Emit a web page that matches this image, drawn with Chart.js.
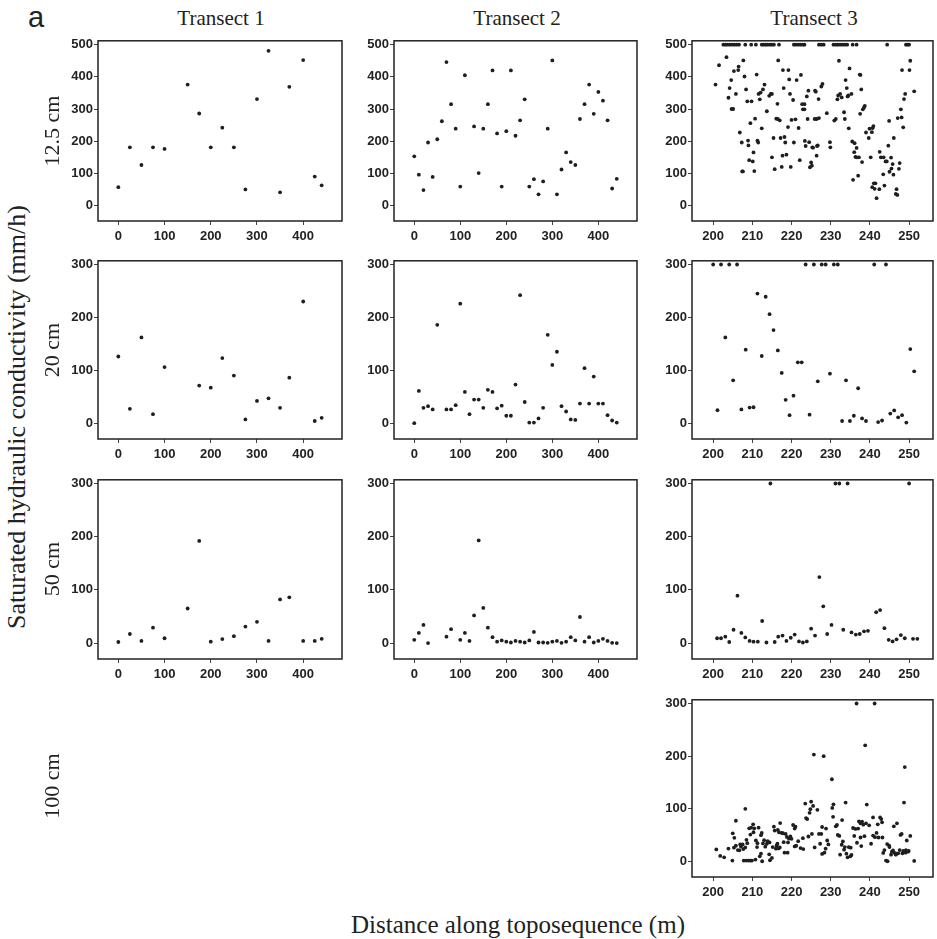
<!DOCTYPE html>
<html lang="en">
<head>
<meta charset="UTF-8">
<title>Saturated hydraulic conductivity along three transects</title>
<script src="https://cdn.jsdelivr.net/npm/chart.js"></script>
<style>
  body { margin: 0; width: 937px; height: 939px; position: relative; overflow: hidden; background: #fff; }
  canvas { position: absolute; }
  .txt { position: absolute; color: #222; white-space: nowrap; font-family: 'Liberation Serif', 'Times New Roman', serif; line-height: 1; }
</style>
</head>
<body>
<script>
// ---- data (distance in m, Ksat in mm/h) ----
// Transect 1
const t1X125 = [0, 25, 50, 75, 100, 150, 175, 200, 225, 250, 275, 300, 325, 350, 370, 400, 425, 440];
const t1Y125 = [57, 181, 126, 181, 176, 376, 286, 181, 242, 181, 50, 331, 481, 41, 369, 452, 90, 63];
const t1X20 = [0, 25, 50, 75, 100, 175, 200, 225, 250, 275, 300, 325, 350, 370, 400, 425, 440];
const t1Y20 = [126, 27, 162, 17, 106, 71, 67, 123, 90, 7, 42, 47, 29, 86, 230, 4, 10];
const t1X50 = [0, 25, 50, 75, 100, 150, 175, 200, 225, 250, 275, 300, 325, 350, 370, 400, 425, 440];
const t1Y50 = [2, 17, 4, 29, 9, 65, 192, 2.5, 7.5, 13, 31, 40, 4, 82, 86, 4, 4, 8];

// Transect 2
const t2X125 = [0, 10, 20, 30, 40, 50, 60, 70, 80, 90, 100, 110, 130, 140, 150, 160, 170, 180, 190, 200, 210, 220,
  230, 240, 250, 260, 270, 280, 290, 300, 310, 320, 330, 340, 350, 360, 370, 380, 390, 400, 410, 420, 430, 440];
const t2Y125 = [153, 96, 48, 196, 89, 206, 262, 446, 315, 239, 59, 405, 246, 101, 239, 315, 420, 224, 59, 231, 420, 217,
  265, 330, 59, 82, 35, 75, 239, 451, 35, 112, 165, 135, 126, 269, 315, 376, 285, 353, 326, 265, 53, 83];
const t2X20 = [0, 10, 20, 30, 40, 50, 70, 80, 90, 100, 110, 120, 130, 140, 150, 160, 170, 180, 190, 200, 210, 220,
  230, 240, 250, 260, 270, 280, 290, 300, 310, 320, 330, 340, 350, 360, 370, 380, 390, 400, 410, 420, 430, 440];
const t2Y20 = [0, 61, 29, 32, 26, 186, 26, 26, 34, 226, 59, 17, 44.5, 44.5, 29, 63, 59, 28, 33, 14, 14, 73,
  242, 40, 1, 1, 9, 29, 167, 110, 135, 32, 22, 7, 6, 37, 104, 37, 88, 37, 37, 15, 5, 1];
const t2X50 = [0, 10, 20, 30, 70, 80, 100, 110, 120, 130, 140, 150, 160, 170, 180, 190, 200, 210, 220, 230, 240,
  250, 260, 270, 280, 290, 300, 310, 320, 330, 340, 350, 360, 370, 380, 390, 400, 410, 420, 430, 440];
const t2Y50 = [6, 19, 34, 0, 12, 26, 6, 19, 4, 52, 193, 66, 29, 11, 2.5, 5, 2.5, 1, 4, 2.5, 1,
  5, 21, 1, 1, 0.5, 2.5, 4, 0.5, 2.5, 11, 5, 49, 2.5, 11, 1, 4, 8, 4, 0.5, 0];

// Transect 3
const t3X125 = [
  202.6, 203.1, 203.6, 204.2, 204.8, 205.4, 206.0, 206.6, 208.2, 209.7, 210.9, 212.4, 212.9, 213.4, 213.9, 214.5, 215.0, 215.5,
  216.8, 220.6, 221.1, 221.7, 222.3, 222.9, 223.3, 227.0, 227.6, 228.2, 230.7, 231.3, 231.8, 232.4, 233.0, 233.6, 234.2,
  235.6, 236.6, 244.4, 249.2, 249.6, 250.0,
  200.6, 201.5, 203.4, 203.9, 204.2, 204.6, 204.7, 205.1, 205.3, 205.8, 206.4, 206.5, 206.8, 207.3, 207.4, 207.6, 207.7,
  208.0, 208.4, 208.7, 208.9, 209.0, 209.2, 209.5, 209.8, 210.1, 210.3, 210.5, 210.7, 211.1, 211.3, 211.5, 211.6, 211.9,
  212.1, 212.4, 212.7, 213.1, 213.7, 214.3, 214.7, 215.0, 215.0, 215.4, 215.7, 216.1, 216.4, 216.5, 216.6, 217.0, 217.2,
  217.5, 217.7, 217.8, 218.0, 218.2, 218.4, 218.7, 219.1, 219.2, 219.4, 219.6, 219.8, 220.0, 220.4, 220.6, 221.0, 221.3,
  221.8, 222.1, 222.4, 222.7, 222.9, 223.3, 223.3, 223.4, 223.6, 223.9, 224.1, 224.3, 224.5, 224.7, 225.0, 225.2, 225.3,
  225.5, 225.9, 226.4, 226.0, 226.2, 226.4, 226.5, 226.7, 226.9, 227.0,
  227.6, 227.9, 229.0, 229.8, 229.9, 230.9, 231.3, 231.7, 231.9, 232.1, 232.4, 232.8, 233.4, 233.6, 233.8, 234.1, 234.3,
  234.5, 234.6, 234.8, 235.3, 235.5, 235.7, 236.0, 236.1, 236.3, 236.6, 236.6, 237.0, 237.2, 237.4, 237.6, 237.5, 237.8,
  238.0, 238.2, 238.5, 238.7, 239.0, 239.7, 239.9, 240.2, 240.5, 240.7, 240.9, 240.6, 241.0, 241.2, 241.4, 241.7, 242.4,
  242.5, 242.8, 243.4, 243.5, 243.7, 244.0, 244.3, 244.7, 244.9, 245.0, 245.4, 245.5, 245.8, 246.0, 246.1, 246.6, 246.8,
  247.0, 247.1, 247.4, 247.6, 247.9, 248.1, 248.2, 248.5, 248.7, 249.0, 250.1, 250.3, 251.3];
const t3Y125 = [
  500, 500, 500, 500, 500, 500, 500, 500, 500, 500, 500, 500, 500, 500, 500, 500, 500, 500,
  500, 500, 500, 500, 500, 500, 500, 500, 500, 500, 500, 500, 500, 500, 500, 500, 500,
  500, 500, 500, 500, 500, 500,
  376, 436, 461, 335, 365, 390, 300, 300, 418, 347, 421, 432, 227, 196, 106, 106, 451,
  401, 361, 324, 202, 187, 141, 256, 324, 137, 165, 107, 270, 407, 202, 196, 347, 330,
  351, 240, 361, 376, 293, 341, 347, 347, 150, 210, 113, 270, 316, 269, 451, 265, 210,
  120, 155, 421, 365, 213, 196, 158, 244, 421, 392, 347, 120, 266, 328, 196, 268, 390,
  241, 141, 406, 315, 299, 315, 299, 201, 185, 339, 269, 357, 197, 119, 134, 124, 181,
  180, 269, 269, 357, 354, 155, 185, 187, 331, 272,
  370, 378, 287, 197, 181, 264, 269, 330, 342, 450, 347, 336, 290, 269, 390, 365, 339,
  342, 240, 426, 347, 199, 80, 166, 194, 151, 150, 179, 93, 150, 407, 406, 285, 361,
  135, 299, 305, 310, 227, 210, 239, 150, 228, 241, 247, 57, 69, 52, 69, 23, 51,
  167, 150, 97, 150, 62, 137, 137, 186, 263, 105, 149, 115, 129, 96, 210, 36, 51,
  33, 272, 114, 132, 299, 274, 421, 243, 331, 347, 421, 450, 355];
const t3X20 = [200.0, 201.1, 202.0, 203.1, 204.1, 205.1, 206.1, 207.2, 208.3, 209.3, 210.3, 211.3, 212.4, 213.4, 214.4,
  215.4, 216.5, 217.5, 218.5, 219.5, 220.5, 221.6, 222.6, 223.6, 224.6, 225.7, 226.7, 227.7, 228.7, 229.8, 230.8, 231.8,
  232.9, 233.9, 234.9, 235.9, 237.0, 238.0, 239.0, 241.1, 242.1, 243.1, 244.1, 245.2, 246.2, 247.2, 248.2, 249.3, 250.3, 251.3];
const t3Y20 = [300, 24.5, 300, 162, 300, 81, 300, 26, 139, 29.5, 30, 245, 127, 239, 206,
  176, 137.5, 95, 44, 15, 52, 115, 115, 300, 16, 300, 79, 300, 300, 93.5, 300, 300,
  4, 81, 4, 14, 66, 9, 4, 300, 2, 5, 300, 18, 24, 11, 15, 1, 140, 98];
const t3X50 = [201.0, 202.0, 203.1, 204.1, 205.2, 206.2, 207.2, 208.2, 209.3, 210.3, 211.4, 212.5, 213.6, 214.6, 215.7,
  216.6, 217.7, 218.7, 219.8, 220.8, 221.9, 222.9, 223.9, 225.0, 226.0, 227.1, 228.1, 229.1, 230.2, 231.2, 232.2, 233.2,
  234.3, 235.3, 236.4, 237.4, 238.5, 239.5, 241.6, 242.6, 243.7, 244.8, 245.8, 246.8, 247.9, 248.9, 250.0, 251.0, 252.1];
const t3Y50 = [9, 9, 12, 2, 25, 89, 19, 10.5, 4, 2.5, 2.5, 41.5, 1, 300, 2,
  12, 14, 4, 10, 16, 3, 1, 3, 27, 14, 124, 69, 17, 34, 300, 300, 25,
  300, 20, 16, 17, 22, 23, 58, 62, 28, 6, 3, 7, 15, 9, 300, 8, 8];
const t3X100 = [
  200.8, 201.8, 202.8, 203.9, 204.9, 205.0, 205.4, 205.8, 205.3, 205.8, 206.3, 206.7, 206.9, 207.1, 207.5, 207.7, 207.8,
  208.4, 209.0, 209.5, 208.2, 208.5, 208.2, 208.7, 209.2, 209.5, 209.7, 210.2, 210.5, 210.3, 209.9, 210.8, 210.9, 211.3,
  211.2, 211.6, 211.9, 212.2, 212.4, 212.2, 212.5, 212.7, 213.0, 213.3, 213.7, 213.9, 214.3, 214.4, 214.5, 215.0, 215.2,
  215.5, 215.7, 216.0, 216.2, 216.5, 216.8, 217.1, 217.5, 217.8, 216.4, 216.7, 217.0, 218.0, 218.2, 218.5, 218.8, 219.0,
  219.1, 219.3, 219.7, 220.0, 220.4, 220.8, 221.0, 220.8, 221.2, 221.7, 222.3, 222.9, 223.0, 223.5, 223.7, 224.0, 224.3,
  224.6, 224.8, 225.0, 225.2, 225.5, 225.7, 225.9, 226.6, 227.0, 227.3, 227.6, 227.8, 227.8, 228.2, 228.4, 228.7, 228.8,
  229.1, 229.4, 230.3, 230.4, 230.7, 230.6, 231.3, 231.6, 231.8, 232.2, 232.4, 232.8, 232.9, 233.1, 233.4, 233.6, 233.8,
  234.0, 234.3, 234.6, 235.0, 235.1, 235.3, 235.7, 236.0, 236.3, 236.6, 236.7, 237.0, 237.2, 237.6, 237.6, 238.0, 238.3,
  237.8, 238.6, 238.8, 239.0, 239.2, 239.8, 240.3, 240.8, 241.2, 240.8, 241.3, 241.7, 242.0, 242.2, 242.6, 242.9, 243.1,
  243.2, 243.4, 243.7, 244.1, 244.4, 244.5, 244.9, 245.0, 245.4, 245.6, 245.9, 246.1, 246.3, 246.6, 246.8, 246.9, 247.2,
  247.6, 247.8, 248.1, 248.3, 248.5, 248.7, 248.9, 249.1, 249.2, 249.4, 249.7, 249.9, 250.3, 251.3];
const t3Y100 = [
  22.5, 10, 7.5, 24, 1.3, 53, 44.5, 77, 25.7, 29.4, 21.3, 20.7, 31.9, 27.6, 31.9, 23.2, 1.3,
  1.3, 1.3, 1.3, 99.6, 40.7, 26.3, 34.4, 62.6, 50.7, 63.9, 70.1, 62.6, 55.1, 1.3, 3.1, 39.4, 34.4,
  26.9, 63.9, 9.4, 49.5, 53.9, 14.4, 0, 33.8, 40.1, 27.6, 33.2, 38.2, 13.1, 35.7, 1.9, 6.3, 26.9,
  65.7, 58.2, 23.8, 30.1, 59.5, 55.1, 72.6, 53.9, 53.2, 33.2, 24.4, 26.3, 36.3, 16.3, 52, 46.3, 16.3,
  35.7, 43.2, 47, 42.6, 68.9, 62, 65.7, 28.2, 29.4, 38.2, 25, 43.8, 23.2, 109.6, 82, 80.1, 47,
  92, 98.9, 113.3, 52, 105.2, 202.9, 26.3, 97.7, 52, 33.2, 52, 13.8, 65.1, 199.7, 16.3, 23.8, 62,
  39.4, 31.9, 155.9, 101.4, 108.3, 84.5, 66.4, 68.9, 50.1, 48.2, 12.5, 31.3, 78.3, 37.6, 21.9, 26.9, 111.5,
  14.4, 7.5, 26.9, 9.4, 25.7, 11.9, 63.2, 48.2, 61.4, 300, 35.1, 62, 75.8, 45.1, 72, 75.1, 69.5,
  28.8, 47.6, 220.4, 72, 107.7, 68.3, 33.2, 83.3, 300, 48.8, 45.7, 53.9, 70.1, 45.1, 83.3, 80.1, 73.9,
  45.1, 15.7, 21.3, 1.3, 32.6, 0, 29.4, 26.9, 12.5, 18.2, 20.7, 66.4, 15.7, 12.5, 14.4, 72, 15,
  21.3, 50.1, 52, 15, 19.4, 111.5, 179.1, 16.3, 21.3, 39.4, 18.2, 19.4, 48.2, 0.6];

// axis ticks
const yTicks125 = [0, 100, 200, 300, 400, 500];
const yTicks = [0, 100, 200, 300];
const xTicks12 = [0, 100, 200, 300, 400];
const xTicks3 = [200, 210, 220, 230, 240, 250];

// ---- layout ----
const YW = 40, XH = 26, PADT = 8, PADR = 1;
const colBox = [{ x: 98, w: 247 }, { x: 394, w: 246 }, { x: 692, w: 244 }];
const rowBox = [{ y: 40, h: 181 }, { y: 260, h: 179 }, { y: 479, h: 180 }, { y: 699, h: 178 }];
const xRange12 = [-44, 484], xRange3 = [194.6, 256.1];
const yRange125 = [-48, 512], yRange = [-30, 307];

const tickFont = { family: 'Liberation Sans', size: 13, weight: 'bold' };

const boxPlugin = {
  id: 'panelBox',
  afterDraw(chart) {
    const a = chart.chartArea, ctx = chart.ctx;
    ctx.save();
    ctx.strokeStyle = '#222';
    ctx.lineWidth = 1.5;
    ctx.strokeRect(a.left, a.top, a.right - a.left, a.bottom - a.top);
    ctx.restore();
  }
};

function axis(range, ticks, isX) {
  return {
    type: 'linear',
    min: range[0],
    max: range[1],
    afterBuildTicks: s => { s.ticks = ticks.map(v => ({ value: v })); },
    afterFit: s => { if (isX) s.height = XH; else s.width = YW; },
    grid: { display: true, drawOnChartArea: false, drawTicks: true, tickLength: 4, tickColor: '#444', tickWidth: 1 },
    border: { display: false },
    ticks: { font: tickFont, color: '#222', padding: isX ? 4 : 1, maxRotation: 0, autoSkip: false }
  };
}

function panel(col, row, xs, ys, xr, yr, xt, yt) {
  const b = { x: colBox[col].x, w: colBox[col].w, y: rowBox[row].y, h: rowBox[row].h };
  const W = YW + b.w + PADR, H = PADT + b.h + XH;
  const c = document.createElement('canvas');
  c.width = W; c.height = H;
  c.style.left = (b.x - YW) + 'px';
  c.style.top = (b.y - PADT) + 'px';
  c.style.width = W + 'px';
  c.style.height = H + 'px';
  document.body.appendChild(c);
  new Chart(c, {
    type: 'scatter',
    data: {
      datasets: [{
        data: xs.map((x, i) => ({ x: x, y: ys[i] })),
        pointRadius: 1.9,
        pointBackgroundColor: '#1e1e1e',
        pointBorderWidth: 0,
        clip: false
      }]
    },
    options: {
      responsive: false,
      animation: false,
      devicePixelRatio: 1,
      layout: { padding: { top: PADT, right: PADR, left: 0, bottom: 0 } },
      plugins: { legend: { display: false }, tooltip: { enabled: false } },
      scales: { x: axis(xr, xt, true), y: axis(yr, yt, false) }
    },
    plugins: [boxPlugin]
  });
}

panel(0, 0, t1X125, t1Y125, xRange12, yRange125, xTicks12, yTicks125);
panel(1, 0, t2X125, t2Y125, xRange12, yRange125, xTicks12, yTicks125);
panel(2, 0, t3X125, t3Y125, xRange3, yRange125, xTicks3, yTicks125);
panel(0, 1, t1X20, t1Y20, xRange12, yRange, xTicks12, yTicks);
panel(1, 1, t2X20, t2Y20, xRange12, yRange, xTicks12, yTicks);
panel(2, 1, t3X20, t3Y20, xRange3, yRange, xTicks3, yTicks);
panel(0, 2, t1X50, t1Y50, xRange12, yRange, xTicks12, yTicks);
panel(1, 2, t2X50, t2Y50, xRange12, yRange, xTicks12, yTicks);
panel(2, 2, t3X50, t3Y50, xRange3, yRange, xTicks3, yTicks);
panel(2, 3, t3X100, t3Y100, xRange3, yRange, xTicks3, yTicks);

// ---- text ----
function label(text, cx, cy, size, opts) {
  const d = document.createElement('div');
  d.className = 'txt';
  d.textContent = text;
  d.style.fontSize = size + 'px';
  d.style.left = cx + 'px';
  d.style.top = cy + 'px';
  d.style.transform = 'translate(-50%, -50%)' + (opts && opts.rot ? ' rotate(-90deg)' : '');
  if (opts && opts.sans) d.style.fontFamily = "'Liberation Sans', Arial, sans-serif";
  document.body.appendChild(d);
}

label('a', 36, 17, 29, { sans: true });
label('Transect 1', 221, 18, 21);
label('Transect 2', 517, 18, 21);
label('Transect 3', 814, 18, 21);
label('12.5 cm', 52, 131, 22, { rot: true });
label('20 cm', 52, 350, 22, { rot: true });
label('50 cm', 52, 569, 22, { rot: true });
label('100 cm', 52, 786, 22, { rot: true });
label('Saturated hydraulic conductivity (mm/h)', 17, 417, 26, { rot: true });
label('Distance along toposequence (m)', 518, 924, 25);
</script>
</body>
</html>
